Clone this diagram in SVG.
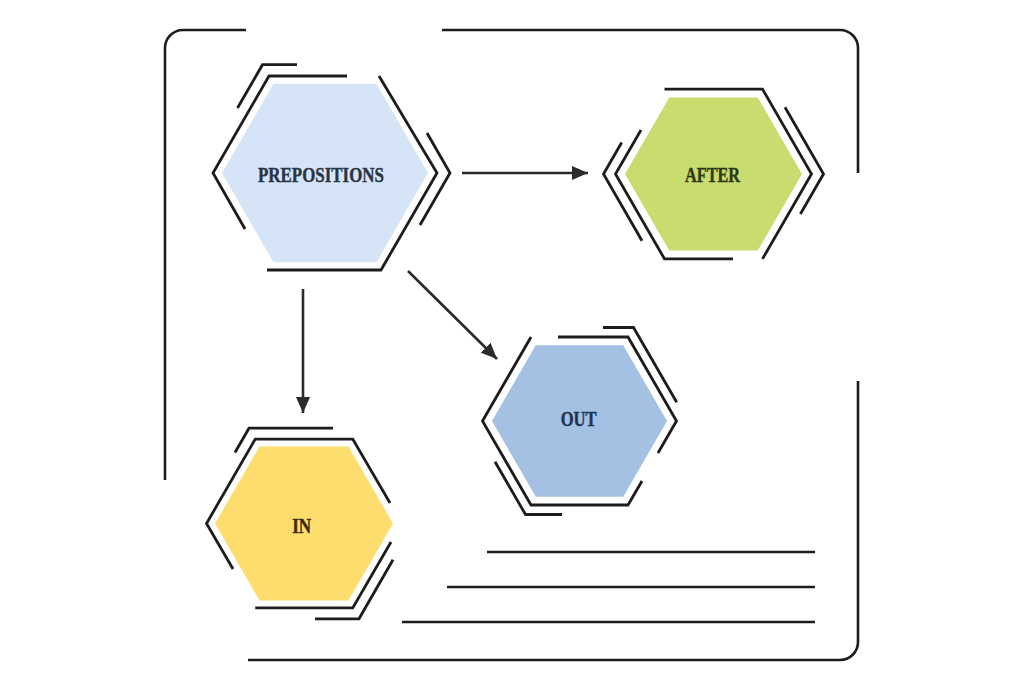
<svg xmlns="http://www.w3.org/2000/svg" width="1024" height="683" viewBox="0 0 1024 683">
<style>
.ol{fill:none;stroke:#1c1c1c;stroke-width:2.8;stroke-linecap:butt;stroke-linejoin:miter}
.fr{fill:none;stroke:#1c1c1c;stroke-width:2.6}
.ar{fill:none;stroke:#2a2a2a;stroke-width:2.6}
.lb{font-family:"Liberation Serif","Times New Roman",serif;font-weight:bold;font-size:20px;text-anchor:middle;stroke-width:0.4}
</style>
<defs>
<marker id="ah" viewBox="0 0 16 14" refX="16" refY="7" markerWidth="16" markerHeight="14" orient="auto" markerUnits="userSpaceOnUse">
<path d="M0,0 L16,7 L0,14 z" fill="#2a2a2a"/>
</marker>
</defs>
<rect width="1024" height="683" fill="#ffffff"/>
<g id="frame">
<path class="fr" d="M165,480 L165,48 A18,18 0 0 1 183,30 L246,30"/>
<path class="fr" d="M442,30 L840,30 A18,18 0 0 1 858,48 L858,173"/>
<path class="fr" d="M858,381 L858,642 A18,18 0 0 1 840,660 L248,660"/>
<path class="fr" d="M487,552 H815 M447,587 H815 M402,622 H815"/>
</g>
<g id="node-prepositions">
<polygon points="428,173 376.5,262.2 273.5,262.2 222,173 273.5,83.8 376.5,83.8" fill="#d5e5f7"/>
<path class="ol" d="M245,229 L213,173 L269,76 L347,76 M379,76 L437,173 L381,270 L267,270"/>
<path class="ol" d="M237.5,108 L262.5,64.7 L297,64.7 M427,133 L450,173 L420,225"/>
<text class="lb" x="321" y="182" fill="#2a3444" stroke="#2a3444" textLength="126" lengthAdjust="spacingAndGlyphs">PREPOSITIONS</text>
</g>
<g id="node-after">
<polygon points="802,174 757.75,250.6 669.25,250.6 625,174 669.25,97.4 757.75,97.4" fill="#c8dc6f"/>
<path class="ol" d="M664.5,89.1 L762.5,89.1 L811.5,174 L762.5,258.9 M733,258.9 L664.5,258.9 L615.5,174 L641,130"/>
<path class="ol" d="M785,107.3 L823.5,174 L800.4,214 M621.7,142.5 L603.5,174 L642,240.7"/>
<text class="lb" x="712.5" y="182" fill="#2d3a17" stroke="#2d3a17" textLength="55" lengthAdjust="spacingAndGlyphs">AFTER</text>
</g>
<g id="node-out">
<polygon points="667,421 623.25,496.8 535.75,496.8 492,421 535.75,345.2 623.25,345.2" fill="#a4c0e2"/>
<path class="ol" d="M558,337 L628,337 L676.5,421 L658,453 M531,337 L482.5,421 L531,505 L628,505 L642,481"/>
<path class="ol" d="M603,327.5 L633.5,327.5 L676.7,402.3 M495,461.7 L525.5,514.5 L562,514.5"/>
<text class="lb" x="578.7" y="426" fill="#1f3450" stroke="#1f3450" textLength="36" lengthAdjust="spacingAndGlyphs">OUT</text>
</g>
<g id="node-in">
<polygon points="393,523.5 348.5,600.5 259.5,600.5 215,523.5 259.5,446.5 348.5,446.5" fill="#fedd6f"/>
<path class="ol" d="M233,569 L206.5,523.5 L255.25,439.1 L352.75,439.1 L390,503 M255.25,607.9 L352.75,607.9 L391,542"/>
<path class="ol" d="M235,452.5 L249,428.2 L333,428.2 M393,559.7 L359,618.8 L315,618.8"/>
<text class="lb" x="301.7" y="533" fill="#3a2a10" stroke="#3a2a10" textLength="19" lengthAdjust="spacingAndGlyphs">IN</text>
</g>
<g id="connectors">
<path class="ar" d="M462,173 L588,173" marker-end="url(#ah)"/>
<path class="ar" d="M303,289 L303,413" marker-end="url(#ah)"/>
<path class="ar" d="M408,271 L497,359" marker-end="url(#ah)"/>
</g>
</svg>
